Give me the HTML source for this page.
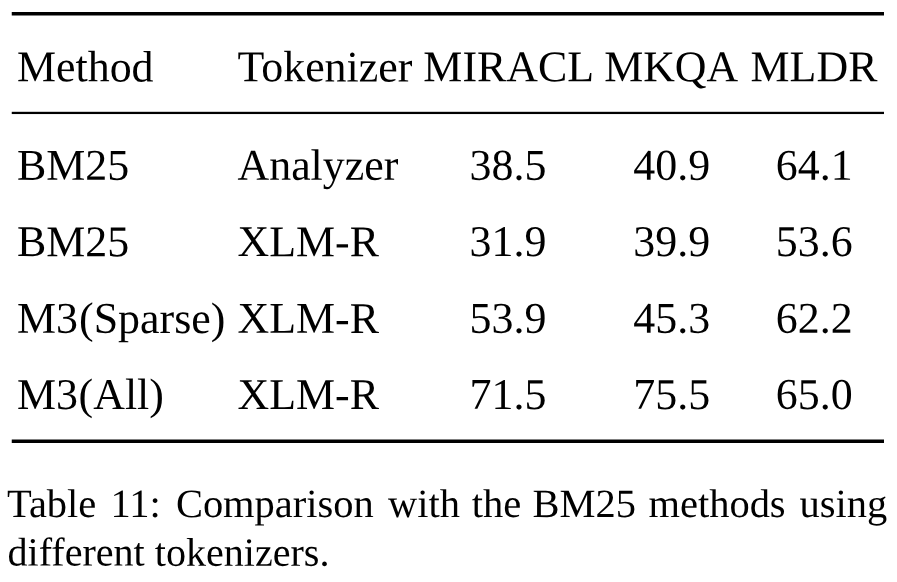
<!DOCTYPE html>
<html><head><meta charset="utf-8">
<title>Table 11</title>
<style>
html,body{margin:0;padding:0;background:#fff;}
body{width:897px;height:582px;overflow:hidden;}
svg{display:block;will-change:transform;}
text{font-family:"Liberation Serif","Times New Roman",Times,serif;fill:#000;text-rendering:geometricPrecision;white-space:pre;}
.t{font-size:43.9px;}
.c{font-size:40.1px;}
.m{text-anchor:middle;}
</style></head><body>
<svg width="897" height="582" viewBox="0 0 897 582">
<rect x="0" y="0" width="897" height="582" fill="#fff"/>
<rect x="11.75" y="12" width="872.25" height="3.5" fill="#000"/>
<rect x="11.75" y="111.8" width="872.25" height="2.25" fill="#000"/>
<rect x="11.75" y="439.5" width="872.25" height="3.5" fill="#000"/>

<text class="t" transform="translate(17,81.3) rotate(0.05)">Method</text>
<text class="t" transform="translate(237.5,81.3) rotate(0.05)">Tokenizer</text>
<text class="t m" transform="translate(508.7,81.3) rotate(0.05)">MIRACL</text>
<text class="t m" transform="translate(671.2,81.3) rotate(0.05)">MKQA</text>
<text class="t m" transform="translate(814,81.3) rotate(0.05)">MLDR</text>
<text class="t" transform="translate(17,179.7) rotate(0.05)">BM25</text>
<text class="t" transform="translate(237.5,179.7) rotate(0.05)">Analyzer</text>
<text class="t m" transform="translate(508,179.7) rotate(0.05)">38.5</text>
<text class="t m" transform="translate(671.7,179.7) rotate(0.05)">40.9</text>
<text class="t m" transform="translate(814.2,179.7) rotate(0.05)">64.1</text>
<text class="t" transform="translate(17,256.1) rotate(0.05)">BM25</text>
<text class="t" transform="translate(237.5,256.1) rotate(0.05)">XLM-R</text>
<text class="t m" transform="translate(508,256.1) rotate(0.05)">31.9</text>
<text class="t m" transform="translate(671.7,256.1) rotate(0.05)">39.9</text>
<text class="t m" transform="translate(814.2,256.1) rotate(0.05)">53.6</text>
<text class="t" transform="translate(17,332.8) rotate(0.05)">M3<tspan dx="1.1">(Sparse)</tspan></text>
<text class="t" transform="translate(237.5,332.8) rotate(0.05)">XLM-R</text>
<text class="t m" transform="translate(508,332.8) rotate(0.05)">53.9</text>
<text class="t m" transform="translate(671.7,332.8) rotate(0.05)">45.3</text>
<text class="t m" transform="translate(814.2,332.8) rotate(0.05)">62.2</text>
<text class="t" transform="translate(17,408.9) rotate(0.05)">M3<tspan dx="0.6">(All)</tspan></text>
<text class="t" transform="translate(237.5,408.9) rotate(0.05)">XLM-R</text>
<text class="t m" transform="translate(508,408.9) rotate(0.05)">71.5</text>
<text class="t m" transform="translate(671.7,408.9) rotate(0.05)">75.5</text>
<text class="t m" transform="translate(814.2,408.9) rotate(0.05)">65.0</text>
<text class="c" transform="translate(7,516.9) rotate(0.05) scale(1.01,1)">Table </text>
<text class="c" transform="translate(110.41,516.9) rotate(0.05) scale(1.01,1)">11: </text>
<text class="c" transform="translate(175.88,516.9) rotate(0.05) scale(1.01,1)">Comparison </text>
<text class="c" transform="translate(388.08,516.9) rotate(0.05) scale(1.01,1)">with </text>
<text class="c" transform="translate(471.83,516.9) rotate(0.05) scale(1.01,1)">the </text>
<text class="c" transform="translate(532.48,516.9) rotate(0.05) scale(1.01,1)">BM25 </text>
<text class="c" transform="translate(648.45,516.9) rotate(0.05) scale(1.01,1)">methods </text>
<text class="c" transform="translate(799.42,516.9) rotate(0.05) scale(1.01,1)">using</text>
<text class="c" transform="translate(7.5,565.5) rotate(0.05)">different tokenizers.</text>
</svg>
</body></html>
